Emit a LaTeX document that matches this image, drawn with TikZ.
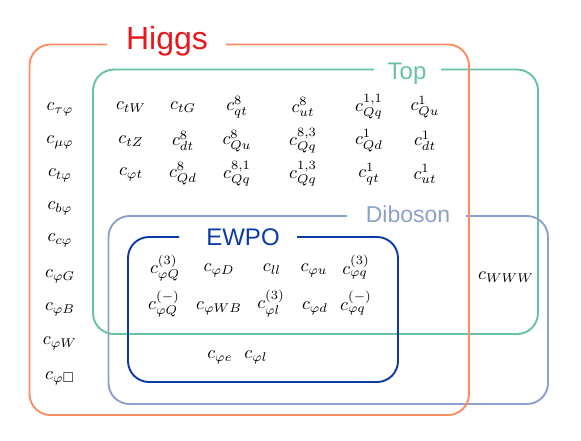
\documentclass[tikz,border=0pt]{standalone}
\usepackage{amssymb}
\usepackage{graphicx}
\usepackage{fontspec}
\newfontfamily\lblfont{Liberation Sans}
\definecolor{higgsc}{HTML}{FC8D62}
\definecolor{higgst}{HTML}{E41A1C}
\definecolor{topc}{HTML}{66C2A5}
\definecolor{dibc}{HTML}{8DA0CB}
\definecolor{ewpoc}{HTML}{0B3AA6}
\newcommand{\cf}[1]{\scalebox{1.82}{$#1$}}
\tikzset{
  coef/.style={inner sep=0pt},
  boxline/.style={line width=1.9pt, rounded corners=21pt},
  grouplbl/.style={anchor=base, inner sep=0pt},
}
\begin{document}
\begin{tikzpicture}[x=1pt,y=-1pt]
\useasboundingbox (0,0) rectangle (581,440);
% group boxes
\draw[boxline, draw=topc] (441,69.5) -- (538,69.5) -- (538,334) -- (93,334) -- (93,69.5) -- (374,69.5);
\draw[boxline, draw=dibc] (466,216) -- (548,216) -- (548,404) -- (108.5,404) -- (108.5,216) -- (347,216);
\draw[boxline, draw=ewpoc] (297,237) -- (398,237) -- (398,382) -- (128,382) -- (128,237) -- (179,237);
\draw[boxline, draw=higgsc] (226,44.5) -- (469,44.5) -- (469,415) -- (29.5,415) -- (29.5,44.5) -- (107,44.5);
% group labels
\node[grouplbl, text=higgst, font=\lblfont\fontsize{32}{36}\selectfont] (lhiggs) at (167,49) {Higgs};
\node[grouplbl, text=topc, font=\lblfont\fontsize{24}{28}\selectfont] (ltop) at (407,79) {Top};
\node[grouplbl, text=dibc, font=\lblfont\fontsize{23}{27}\selectfont] (ldib) at (408,222.5) {Diboson};
\node[grouplbl, text=ewpoc, font=\lblfont\fontsize{24}{28}\selectfont] (lewpo) at (243,245) {EWPO};
% Higgs-only column
\node[coef] (h1) at (60,109) {\cf{c_{\tau\varphi}}};
\node[coef] (h2) at (60,142) {\cf{c_{\mu\varphi}}};
\node[coef] (h3) at (60,175) {\cf{c_{t\varphi}}};
\node[coef] (h4) at (60,208) {\cf{c_{b\varphi}}};
\node[coef] (h5) at (60,240) {\cf{c_{c\varphi}}};
\node[coef] (h6) at (60,276) {\cf{c_{\varphi G}}};
\node[coef] (h7) at (60,309) {\cf{c_{\varphi B}}};
\node[coef] (h8) at (60,343) {\cf{c_{\varphi W}}};
\node[coef] (h9) at (60,378) {\cf{c_{\varphi\Box}}};
% Top entries
\node[coef] (t11) at (131,107) {\cf{c_{tW}}};
\node[coef] (t12) at (183,107) {\cf{c_{tG}}};
\node[coef] (t13) at (237,107) {\cf{c_{qt}^{8}}};
\node[coef] (t14) at (303,107) {\cf{c_{ut}^{8}}};
\node[coef] (t15) at (369,107) {\cf{c_{Qq}^{1,1}}};
\node[coef] (t16) at (425,107) {\cf{c_{Qu}^{1}}};
\node[coef] (t21) at (131,141) {\cf{c_{tZ}}};
\node[coef] (t22) at (183,141) {\cf{c_{dt}^{8}}};
\node[coef] (t23) at (237,141) {\cf{c_{Qu}^{8}}};
\node[coef] (t24) at (303,141) {\cf{c_{Qq}^{8,3}}};
\node[coef] (t25) at (369,141) {\cf{c_{Qd}^{1}}};
\node[coef] (t26) at (425,141) {\cf{c_{dt}^{1}}};
\node[coef] (t31) at (131,174) {\cf{c_{\varphi t}}};
\node[coef] (t32) at (183,174) {\cf{c_{Qd}^{8}}};
\node[coef] (t33) at (237,174) {\cf{c_{Qq}^{8,1}}};
\node[coef] (t34) at (303,174) {\cf{c_{Qq}^{1,3}}};
\node[coef] (t35) at (369,174) {\cf{c_{qt}^{1}}};
\node[coef] (t36) at (425,174) {\cf{c_{ut}^{1}}};
% EWPO entries
\node[coef] (e11) at (165,268) {\cf{c_{\varphi Q}^{(3)}}};
\node[coef] (e12) at (219,270) {\cf{c_{\varphi D}}};
\node[coef] (e13) at (272,269) {\cf{c_{ll}}};
\node[coef] (e14) at (314,270) {\cf{c_{\varphi u}}};
\node[coef] (e15) at (356,267) {\cf{c_{\varphi q}^{(3)}}};
\node[coef] (e21) at (164,304) {\cf{c_{\varphi Q}^{(-)}}};
\node[coef] (e22) at (219,308) {\cf{c_{\varphi WB}}};
\node[coef] (e23) at (271,303) {\cf{c_{\varphi l}^{(3)}}};
\node[coef] (e24) at (315,308) {\cf{c_{\varphi d}}};
\node[coef] (e25) at (356,303) {\cf{c_{\varphi q}^{(-)}}};
\node[coef] (e31) at (220,357) {\cf{c_{\varphi e}}};
\node[coef] (e32) at (256,357) {\cf{c_{\varphi l}}};
% Diboson-only
\node[coef] (d1) at (506,277) {\cf{c_{WWW}}};
\end{tikzpicture}
\end{document}
